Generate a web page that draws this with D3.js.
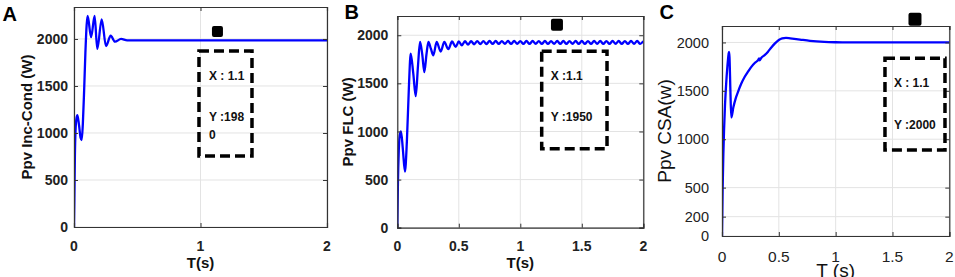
<!DOCTYPE html>
<html><head><meta charset="utf-8">
<script src="https://cdn.jsdelivr.net/npm/d3@7"></script>
<style>body{margin:0;background:#fff;} svg{display:block;}</style>
</head><body>
<svg id="c" width="955" height="277"></svg>
<script>
// ---------- DATA ----------
// Panel A: Inc-Cond
const tA = [0, 0.003, 0.007, 0.012, 0.02, 0.027, 0.04, 0.052, 0.061, 0.07, 0.08, 0.09, 0.1, 0.108, 0.135, 0.163, 0.184, 0.219, 0.253, 0.29, 0.324, 0.372, 0.42, 1.0, 2.0];
const pA = [0, 300, 750, 1020, 1160, 1190, 1080, 950, 925, 1100, 1450, 1850, 2150, 2245, 2020, 2245, 1894, 2209, 1925, 2035, 1971, 2000, 1985, 1985, 1985];
// Panel B: FLC
const tB = [0, 0.005, 0.012, 0.02, 0.03, 0.045, 0.062, 0.078, 0.094, 0.109, 0.13, 0.15, 0.168, 0.185, 0.203, 0.22, 0.237, 0.253, 0.273, 0.293, 0.32, 0.353, 0.382, 0.415, 0.445, 0.475, 0.5, 0.525,
  0.55,0.575,0.6,0.625,0.65,0.675,0.7,0.725,0.75,0.775,
  0.8,0.825,0.85,0.875,0.9,0.925,0.95,0.975,1.0,1.025,
  1.05,1.075,1.1,1.125,1.15,1.175,1.2,1.225,1.25,1.275,
  1.3,1.325,1.35,1.375,1.4,1.425,1.45,1.475,1.5,1.525,
  1.55,1.575,1.6,1.625,1.65,1.675,1.7,1.725,1.75,1.775,
  1.8,1.825,1.85,1.875,1.9,1.925,1.95,1.975,2.0];
const pB = [0, 450, 800, 960, 1002, 820, 584, 900, 1450, 1809, 1600, 1367, 1680, 1930, 1800, 1617, 1800, 1930, 1860, 1791, 1930, 1830, 1930, 1855, 1935, 1880, 1935, 1895,
  1938,1903,1938,1906,1939,1908,1939,1909,1940,1910,
  1940,1910,1939,1911,1940,1910,1940,1911,1939,1910,
  1940,1910,1940,1911,1939,1910,1940,1910,1939,1911,
  1940,1910,1940,1910,1939,1911,1940,1910,1940,1910,
  1939,1910,1940,1911,1940,1910,1939,1910,1940,1911,
  1940,1910,1939,1910,1940,1911,1940,1910,1939];
// Panel C: CSA
const tC = [0, 0.003, 0.006, 0.012, 0.018, 0.026, 0.035, 0.048, 0.058, 0.062, 0.066, 0.074, 0.082, 0.1, 0.12, 0.141, 0.17, 0.2, 0.23, 0.258, 0.29, 0.317, 0.326, 0.331, 0.345, 0.375, 0.405, 0.434, 0.466, 0.5, 0.53, 0.563, 0.6, 0.686, 0.774, 0.9, 1.0, 1.1, 1.5, 2.0];
const pC = [0, 250, 510, 850, 1094, 1340, 1541, 1760, 1880, 1903, 1850, 1500, 1225, 1330, 1420, 1490, 1575, 1645, 1700, 1748, 1790, 1817, 1835, 1815, 1840, 1869, 1905, 1948, 1990, 2025, 2042, 2048, 2043, 2030, 2017, 2006, 2002, 2000, 2000, 2000];

const xTicksA = [0, 1, 2];
const xTicksBC = [0, 0.5, 1, 1.5, 2];
const yTicksAB = [0, 500, 1000, 1500, 2000];
const yTicksC = [0, 200, 500, 1000, 1500, 2000];

// data-tip annotations (data units)
const annA = {box:[0.988, 1.407, 1872, 755], sq:[1.134, 2080], lines:[[1.067,1606,"X : 1.1"],[1.067,1170,"Y :198"],[1.067,979,"0"]]};
const annB = {box:[1.174, 1.705, 1833, 821], sq:[1.298, 2110], lines:[[1.247,1583,"X :1.1"],[1.247,1155,"Y :1950"]]};
const annC = {box:[1.434, 1.962, 1838, 888], sq:[1.698, 2240], lines:[[1.513,1580,"X : 1.1"],[1.513,1146,"Y :2000"]]};

// ---------- LAYOUT ----------
const panels = [
  {id:"A", letter:"A", lx:2.5, ly:20.5, t:tA, p:pA, x0:74, x1:327, y0:7, y1:227, ymax:2340,
   xTicks:xTicksA, yTicks:yTicksAB, ylab:"Ppv Inc-Cond (W)", ylabX:31.5, xlab:"T(s)", xlabY:267.5,
   weight:"bold", tickFont:14, yTickFont:14, labFont:15, yGap:6, xTickY:250.7, ann:annA, sqSize:11},
  {id:"B", letter:"B", lx:344.5, ly:19, t:tB, p:pB, x0:397.3, x1:643.3, y0:16, y1:227.7, ymax:2200,
   xTicks:xTicksBC, yTicks:yTicksAB, ylab:"Ppv FLC (W)", ylabX:353, xlab:"T(s)", xlabY:267.5,
   weight:"bold", tickFont:14, yTickFont:14, labFont:15, yGap:9, xTickY:250.7, ann:annB, sqSize:12},
  {id:"C", letter:"C", lx:659.5, ly:19, t:tC, p:pC, x0:722, x1:949.3, y0:26, y1:236, ymax:2170,
   xTicks:xTicksBC, yTicks:yTicksC, ylab:"Ppv CSA(w)", ylabX:671, xlab:"T (s)", xlabY:276.5,
   weight:"normal", tickFont:15.5, yTickFont:14.5, labFont:19, xlabFont:19, yGap:13, xTickY:261.5, ann:annC, sqSize:13}
];

const svg = d3.select("#c");
const FONT = "'Liberation Sans', Arial, Helvetica, sans-serif";

panels.forEach(P => {
  const x = d3.scaleLinear().domain([0, 2]).range([P.x0, P.x1]);
  const y = d3.scaleLinear().domain([0, P.ymax]).range([P.y1, P.y0]);
  const g = svg.append("g");

  // grid
  g.append("g").selectAll("line").data(P.xTicks).join("line")
    .attr("x1", d => x(d)).attr("x2", d => x(d)).attr("y1", P.y0).attr("y2", P.y1)
    .attr("stroke", "#e3e3e3").attr("stroke-width", 1);
  g.append("g").selectAll("line").data(P.yTicks).join("line")
    .attr("x1", P.x0).attr("x2", P.x1).attr("y1", d => y(d)).attr("y2", d => y(d))
    .attr("stroke", "#e3e3e3").attr("stroke-width", 1);

  // clip
  svg.append("clipPath").attr("id", "clip" + P.id).append("rect")
    .attr("x", P.x0).attr("y", P.y0).attr("width", P.x1 - P.x0).attr("height", P.y1 - P.y0);

  // line
  const data = d3.zip(P.t, P.p);
  const line = d3.line().x(d => x(d[0])).y(d => y(d[1])).curve(d3.curveMonotoneX);
  g.append("path").datum(data).attr("d", line)
    .attr("fill", "none").attr("stroke", "#0000ff").attr("stroke-width", 2.3)
    .attr("stroke-linejoin", "round").attr("clip-path", `url(#clip${P.id})`);

  // axes with inward ticks (box)
  const tl = 4;
  const axB = d3.axisBottom(x).tickValues(P.xTicks).tickSize(-tl).tickFormat("");
  const axT = d3.axisTop(x).tickValues(P.xTicks).tickSize(-tl).tickFormat("");
  const axL = d3.axisLeft(y).tickValues(P.yTicks).tickSize(-tl).tickFormat("");
  const axR = d3.axisRight(y).tickValues(P.yTicks).tickSize(-tl).tickFormat("");
  [[axB, `translate(0,${P.y1})`], [axT, `translate(0,${P.y0})`], [axL, `translate(${P.x0},0)`], [axR, `translate(${P.x1},0)`]]
    .forEach(([ax, tr]) => {
      const a = g.append("g").attr("transform", tr).call(ax);
      a.selectAll("path").attr("stroke", "#333").attr("stroke-width", 1.2);
      a.selectAll("line").attr("stroke", "#333").attr("stroke-width", 1);
    });

  // tick labels
  g.append("g").selectAll("text").data(P.xTicks).join("text")
    .attr("x", d => x(d)).attr("y", P.xTickY).attr("text-anchor", "middle")
    .attr("font-family", FONT).attr("font-size", P.tickFont).attr("font-weight", P.weight)
    .attr("fill", "#222").text(d => d3.format("~g")(d));
  g.append("g").selectAll("text").data(P.yTicks).join("text")
    .attr("x", P.x0 - P.yGap).attr("y", d => y(d)).attr("dy", "0.36em").attr("text-anchor", "end")
    .attr("font-family", FONT).attr("font-size", P.yTickFont).attr("font-weight", P.weight)
    .attr("fill", "#222").text(d => d);

  // axis labels
  g.append("text").attr("transform", `translate(${P.ylabX},${(P.y0 + P.y1) / 2}) rotate(-90)`)
    .attr("text-anchor", "middle").attr("font-family", FONT).attr("font-size", P.labFont)
    .attr("font-weight", P.weight).attr("fill", "#111").text(P.ylab);
  g.append("text").attr("x", (P.x0 + P.x1) / 2).attr("y", P.xlabY).attr("text-anchor", "middle")
    .attr("font-family", FONT).attr("font-size", P.xlabFont || P.labFont)
    .attr("font-weight", P.weight).attr("fill", "#111").text(P.xlab);

  // panel letter
  g.append("text").attr("x", P.lx).attr("y", P.ly).attr("font-family", FONT)
    .attr("font-size", 20).attr("font-weight", "bold").attr("fill", "#000").text(P.letter);

  // data tip annotation
  const A = P.ann;
  g.append("rect").attr("x", x(A.box[0])).attr("y", y(A.box[2]))
    .attr("width", x(A.box[1]) - x(A.box[0])).attr("height", y(A.box[3]) - y(A.box[2]))
    .attr("fill", "none").attr("stroke", "#000").attr("stroke-width", 3.5)
    .attr("stroke-dasharray", "10,5");
  g.append("rect").attr("x", x(A.sq[0]) - P.sqSize / 2).attr("y", y(A.sq[1]) - P.sqSize / 2)
    .attr("width", P.sqSize).attr("height", P.sqSize).attr("rx", 2).attr("fill", "#000");
  g.append("g").selectAll("text").data(A.lines).join("text")
    .attr("x", d => x(d[0])).attr("y", d => y(d[1])).attr("dy", "0.36em")
    .attr("font-family", FONT).attr("font-size", 12).attr("font-weight", "bold")
    .attr("fill", "#111").text(d => d[2]);
});
</script>
</body></html>
